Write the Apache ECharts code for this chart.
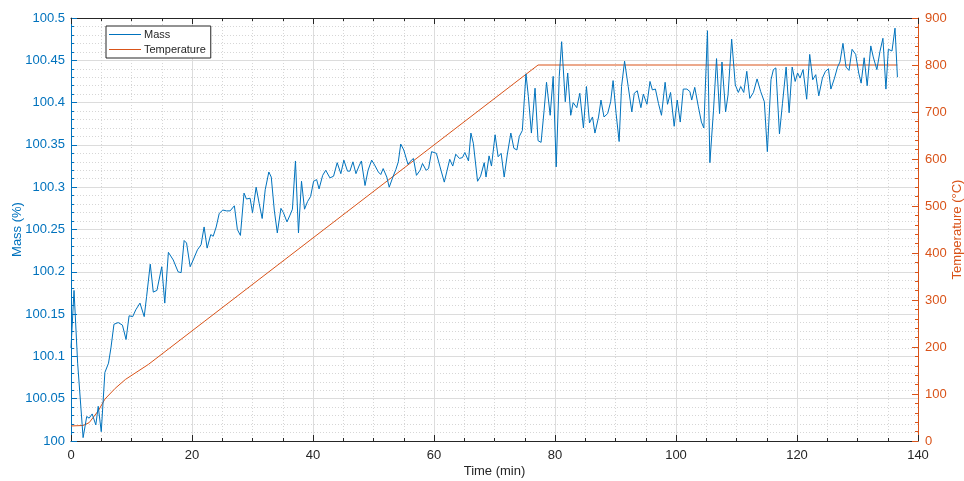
<!DOCTYPE html>
<html>
<head>
<meta charset="utf-8">
<title>Mass and temperature vs time</title>
<script src="https://cdn.jsdelivr.net/npm/echarts@6/dist/echarts.min.js"></script>
<style>
  html, body { margin: 0; padding: 0; background: #ffffff; }
  #chart { width: 964px; height: 481px; }
</style>
</head>
<body>
<div id="chart"></div>
<script>
// Sample time (min) for each mass reading
const timeMin = [
  0, 0.5, 1.1, 2.0, 2.6, 3.0, 3.5, 4.1, 4.5, 5.0, 5.6, 6.2, 6.6, 7.1, 7.8, 8.5, 9.1, 9.6, 10.2, 10.7,
  11.4, 12.1, 12.5, 13.1, 13.6, 14.2, 15.0, 15.5, 16.1, 16.9, 17.7, 18.2, 18.7, 19.1, 19.7, 20.2, 20.9, 21.5, 22.0, 22.5,
  23.1, 23.5, 24.0, 24.5, 25.1, 25.7, 26.3, 27.0, 27.5, 28.0, 28.6, 29.0, 29.6, 30.0, 30.6, 31.1, 31.6, 32.1, 32.7, 33.1,
  33.6, 34.1, 34.7, 35.1, 35.7, 36.2, 36.6, 37.1, 37.6, 38.1, 38.6, 39.1, 39.6, 40.1, 40.6, 41.0, 41.6, 42.1, 42.8, 43.4,
  44.0, 44.6, 45.1, 45.7, 46.1, 46.6, 47.1, 47.6, 48.0, 48.6, 49.1, 49.7, 50.2, 50.8, 51.2, 51.6, 52.2, 52.6, 53.2, 53.7,
  54.1, 54.5, 55.0, 55.7, 56.0, 56.6, 57.1, 57.7, 58.1, 58.7, 59.1, 59.6, 60.4, 61.0, 61.7, 62.1, 62.6, 63.1, 63.6, 64.2,
  64.7, 65.1, 65.7, 66.1, 66.5, 67.2, 67.7, 68.3, 68.6, 69.1, 69.5, 70.1, 70.6, 71.1, 71.6, 72.1, 72.7, 73.2, 73.7, 74.1,
  74.6, 75.2, 75.6, 76.1, 76.7, 77.2, 77.7, 78.2, 78.6, 79.2, 79.7, 80.2, 80.7, 81.1, 81.7, 82.1, 82.6, 83.0, 83.6, 84.1,
  84.7, 85.2, 85.7, 86.2, 86.6, 87.2, 87.6, 88.1, 88.7, 89.2, 89.6, 90.1, 90.6, 91.0, 91.5, 92.1, 92.7, 93.1, 93.6, 94.2,
  94.6, 95.2, 95.7, 96.1, 96.6, 97.1, 97.6, 98.2, 98.6, 99.1, 99.7, 100.2, 100.7, 101.2, 101.8, 102.3, 102.6, 103.1, 103.7, 104.2,
  104.6, 105.2, 105.6, 106.2, 106.7, 107.2, 107.6, 108.2, 108.6, 109.2, 109.8, 110.3, 110.7, 111.2, 111.7, 112.2, 112.8, 113.4, 114.0, 114.6,
  115.1, 115.7, 116.1, 116.5, 117.1, 117.6, 118.2, 118.7, 119.2, 119.7, 120.1, 120.5, 121.0, 121.6, 122.1, 122.6, 123.1, 123.6, 124.2, 124.7,
  125.2, 125.6, 126.2, 126.7, 127.1, 127.6, 128.1, 128.6, 129.1, 129.7, 130.2, 130.6, 131.1, 131.6, 132.2, 132.6, 133.2, 133.7, 134.2, 134.7,
  135.1, 135.7, 136.2, 136.6
];

// Sample mass (%)
const massPct = [
  100.110, 100.178, 100.092, 100.004, 100.029, 100.027, 100.032, 100.019, 100.041, 100.011, 100.081, 100.092, 100.110, 100.138, 100.140, 100.137, 100.120, 100.148, 100.147, 100.155,
  100.163, 100.147, 100.171, 100.209, 100.176, 100.178, 100.206, 100.163, 100.223, 100.214, 100.200, 100.199, 100.237, 100.234, 100.206, 100.214, 100.226, 100.232, 100.253, 100.228,
  100.244, 100.242, 100.253, 100.269, 100.273, 100.272, 100.272, 100.278, 100.250, 100.243, 100.293, 100.286, 100.287, 100.270, 100.300, 100.281, 100.263, 100.297, 100.318, 100.312,
  100.273, 100.246, 100.275, 100.270, 100.259, 100.267, 100.274, 100.331, 100.246, 100.307, 100.274, 100.283, 100.289, 100.307, 100.309, 100.298, 100.314, 100.320, 100.311, 100.313,
  100.329, 100.316, 100.332, 100.319, 100.319, 100.330, 100.316, 100.325, 100.331, 100.302, 100.320, 100.332, 100.326, 100.318, 100.315, 100.322, 100.312, 100.300, 100.312, 100.321,
  100.330, 100.351, 100.344, 100.327, 100.330, 100.334, 100.314, 100.320, 100.328, 100.320, 100.322, 100.342, 100.340, 100.324, 100.306, 100.318, 100.333, 100.325, 100.339, 100.334,
  100.335, 100.341, 100.331, 100.364, 100.352, 100.307, 100.313, 100.329, 100.312, 100.337, 100.325, 100.362, 100.336, 100.340, 100.312, 100.338, 100.364, 100.346, 100.344, 100.360,
  100.367, 100.434, 100.407, 100.364, 100.417, 100.355, 100.353, 100.391, 100.424, 100.385, 100.431, 100.324, 100.431, 100.472, 100.401, 100.435, 100.385, 100.400, 100.394, 100.411,
  100.370, 100.419, 100.376, 100.383, 100.364, 100.383, 100.403, 100.383, 100.387, 100.401, 100.426, 100.387, 100.354, 100.419, 100.449, 100.419, 100.389, 100.411, 100.414, 100.394,
  100.410, 100.398, 100.425, 100.415, 100.416, 100.399, 100.385, 100.424, 100.398, 100.412, 100.372, 100.403, 100.377, 100.416, 100.416, 100.413, 100.403, 100.418, 100.395, 100.377,
  100.370, 100.485, 100.329, 100.391, 100.452, 100.387, 100.448, 100.389, 100.409, 100.475, 100.421, 100.412, 100.419, 100.412, 100.437, 100.405, 100.412, 100.428, 100.413, 100.401,
  100.342, 100.427, 100.439, 100.441, 100.363, 100.399, 100.442, 100.388, 100.442, 100.425, 100.435, 100.429, 100.439, 100.404, 100.457, 100.427, 100.433, 100.408, 100.429, 100.437,
  100.440, 100.416, 100.429, 100.442, 100.448, 100.470, 100.442, 100.438, 100.463, 100.457, 100.435, 100.423, 100.453, 100.420, 100.467, 100.454, 100.439, 100.460, 100.476, 100.416,
  100.463, 100.461, 100.488, 100.430
];

// Furnace temperature programme: hold, ramp, isothermal plateau
const tempTime = [0, 2.0, 3.0, 4.5, 5.6, 7.3, 9.0, 12.8, 22.0, 77.2, 136.6];
const tempC    = [32, 33, 39, 64, 89, 112, 131, 163, 254, 800, 800];

const MASS_COLOR = '#0072BD';
const TEMP_COLOR = '#D95319';
const AXIS_DARK = '#262626';
const FONT = '"Liberation Sans", Arial, Helvetica, sans-serif';

const massData = timeMin.map((t, i) => [t, massPct[i]]);
const tempData = tempTime.map((t, i) => [t, tempC[i]]);

const chart = echarts.init(document.getElementById('chart'), null, { renderer: 'canvas' });

const majorGrid = { show: true, lineStyle: { color: '#dcdcdc', width: 1, type: 'solid' } };
const minorGrid = { show: true, lineStyle: { color: '#d6d6d6', width: 1, type: [1, 2] } };

chart.setOption({
  animation: false,
  backgroundColor: '#ffffff',
  textStyle: { fontFamily: FONT },
  grid: { left: 71, right: 46, top: 18, bottom: 40, containLabel: false, outerBoundsMode: 'none' },
  legend: {
    left: 106, top: 26,
    orient: 'vertical',
    padding: [3, 5, 3, 3],
    itemWidth: 32, itemHeight: 12, itemGap: 4,
    borderColor: AXIS_DARK, borderWidth: 1,
    backgroundColor: '#ffffff',
    textStyle: { fontSize: 11, color: AXIS_DARK, fontFamily: FONT, padding: [0, 0, 0, -2] },
    data: [
      { name: 'Mass', icon: 'path://M0,0H32V1H0Z' },
      { name: 'Temperature', icon: 'path://M0,0H32V1H0Z' }
    ]
  },
  xAxis: [
    {
      type: 'value', min: 0, max: 140, interval: 20,
      name: 'Time (min)', nameLocation: 'middle', nameGap: 24, nameMoveOverlap: false,
      nameTextStyle: { fontSize: 13, color: AXIS_DARK, fontFamily: FONT },
      axisLine: { show: true, onZero: false, lineStyle: { color: AXIS_DARK, width: 1 } },
      axisTick: { show: true, inside: true, length: 6, lineStyle: { color: AXIS_DARK } },
      minorTick: { show: true, splitNumber: 4, length: 3, lineStyle: { color: AXIS_DARK } },
      axisLabel: { fontSize: 13, color: AXIS_DARK, margin: 8, fontFamily: FONT },
      splitLine: majorGrid,
      minorSplitLine: minorGrid
    },
    {
      type: 'value', min: 0, max: 140, interval: 20, position: 'top',
      axisLine: { show: true, onZero: false, lineStyle: { color: AXIS_DARK, width: 1 } },
      axisTick: { show: true, inside: true, length: 6, lineStyle: { color: AXIS_DARK } },
      minorTick: { show: true, splitNumber: 4, length: 3, lineStyle: { color: AXIS_DARK } },
      axisLabel: { show: false },
      splitLine: { show: false }
    }
  ],
  yAxis: [
    {
      type: 'value', min: 100, max: 100.5, interval: 0.05,
      name: 'Mass (%)', nameLocation: 'middle', nameGap: 47, nameRotate: 90, nameMoveOverlap: false,
      nameTextStyle: { fontSize: 13, color: MASS_COLOR, fontFamily: FONT },
      axisLine: { show: true, onZero: false, lineStyle: { color: MASS_COLOR, width: 1 } },
      axisTick: { show: true, inside: true, length: 6, lineStyle: { color: MASS_COLOR } },
      minorTick: { show: true, splitNumber: 5, length: 3, lineStyle: { color: MASS_COLOR } },
      axisLabel: {
        fontSize: 13, color: MASS_COLOR, margin: 6, fontFamily: FONT,
        formatter: v => String(+v.toFixed(2))
      },
      splitLine: majorGrid,
      minorSplitLine: minorGrid
    },
    {
      type: 'value', min: 0, max: 900, interval: 100, position: 'right',
      name: 'Temperature (°C)', nameLocation: 'middle', nameGap: 33, nameRotate: 90, nameMoveOverlap: false,
      nameTextStyle: { fontSize: 13, color: TEMP_COLOR, fontFamily: FONT },
      axisLine: { show: true, onZero: false, lineStyle: { color: TEMP_COLOR, width: 1 } },
      axisTick: { show: true, inside: true, length: 6, lineStyle: { color: TEMP_COLOR } },
      minorTick: { show: true, splitNumber: 5, length: 3, lineStyle: { color: TEMP_COLOR } },
      axisLabel: { fontSize: 13, color: TEMP_COLOR, margin: 7, fontFamily: FONT },
      splitLine: { show: false }
    }
  ],
  series: [
    {
      name: 'Mass', type: 'line', xAxisIndex: 0, yAxisIndex: 0,
      data: massData, showSymbol: false, symbol: 'none',
      lineStyle: { color: MASS_COLOR, width: 1 },
      itemStyle: { color: MASS_COLOR },
      z: 3
    },
    {
      name: 'Temperature', type: 'line', xAxisIndex: 0, yAxisIndex: 1,
      data: tempData, showSymbol: false, symbol: 'none',
      lineStyle: { color: TEMP_COLOR, width: 1 },
      itemStyle: { color: TEMP_COLOR },
      z: 2
    }
  ]
});
</script>
</body>
</html>
